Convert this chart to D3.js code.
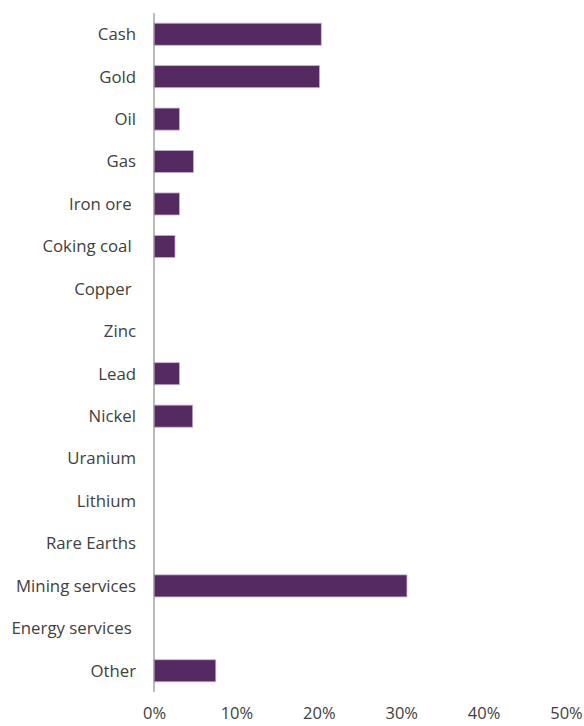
<!doctype html>
<html lang="en">
<head>
<meta charset="UTF-8">
<title>Allocation</title>
<script src="https://d3js.org/d3.v7.min.js"></script>
<style>
body { margin: 0; font-family: "Segoe UI", "Open Sans", sans-serif; background: #fff; }
svg { display: block; }
.label { font-size: 16.8px; fill: #404040; white-space: pre; }
.tick text { font-size: 16.5px; fill: #404040; font-family: "Segoe UI", "Open Sans", sans-serif; }
</style>
</head>
<body>
<div id="plot"></div>
<script>

var categories = ["Cash", "Gold", "Oil", "Gas", "Iron ore ", "Coking coal ", "Copper ", "Zinc",
	"Lead", "Nickel", "Uranium", "Lithium", "Rare Earths", "Mining services", "Energy services ", "Other"];
var values = [0.203, 0.201, 0.031, 0.048, 0.031, 0.0255, 0, 0, 0.031, 0.047, 0, 0, 0, 0.307, 0, 0.075];
var ticks = [0, 0.1, 0.2, 0.3, 0.4, 0.5];

var width = 584;
var height = 726;
var left = 154;

var svg = d3.select("#plot").append("svg")
	.attr("width", width)
	.attr("height", height);

var xScale = d3.scaleLinear().domain([0, 0.5]).range([left, 566]);

var yScale = d3.scaleBand().domain(categories)
	.range([13, 692])
	.paddingInner(0.48)
	.paddingOuter(0.24);

// bars
svg.selectAll("rect.bar")
	.data(categories.map(function (c, i) { return { name: c, value: values[i] }; })
		.filter(function (d) { return d.value > 0; }))
	.enter().append("rect")
	.attr("class", "bar")
	.attr("x", xScale(0))
	.attr("y", function (d) { return yScale(d.name); })
	.attr("width", function (d) { return xScale(d.value) - xScale(0); })
	.attr("height", yScale.bandwidth())
	.style("fill", "#552a62")
	.style("stroke", "#c9b2d4")
	.style("stroke-width", 0.8);

// category labels
svg.selectAll("text.label")
	.data(categories)
	.enter().append("text")
	.attr("class", "label")
	.attr("x", 136)
	.attr("y", function (d) { return yScale(d) + yScale.bandwidth() / 2; })
	.attr("dy", "0.35em")
	.attr("text-anchor", "end")
	.text(function (d) { return d; });

// vertical axis line
svg.append("line")
	.attr("x1", xScale(0)).attr("x2", xScale(0))
	.attr("y1", 13).attr("y2", 692)
	.style("stroke", "#8c8c8c")
	.style("stroke-width", 1.2);

// x axis labels
var xAxis = d3.axisBottom(xScale)
	.tickValues(ticks)
	.tickSize(0)
	.tickPadding(0)
	.tickFormat(d3.format(".0%"));

var gx = svg.append("g")
	.attr("transform", "translate(0, 707)")
	.call(xAxis);
gx.select(".domain").remove();

</script>
</body>
</html>
